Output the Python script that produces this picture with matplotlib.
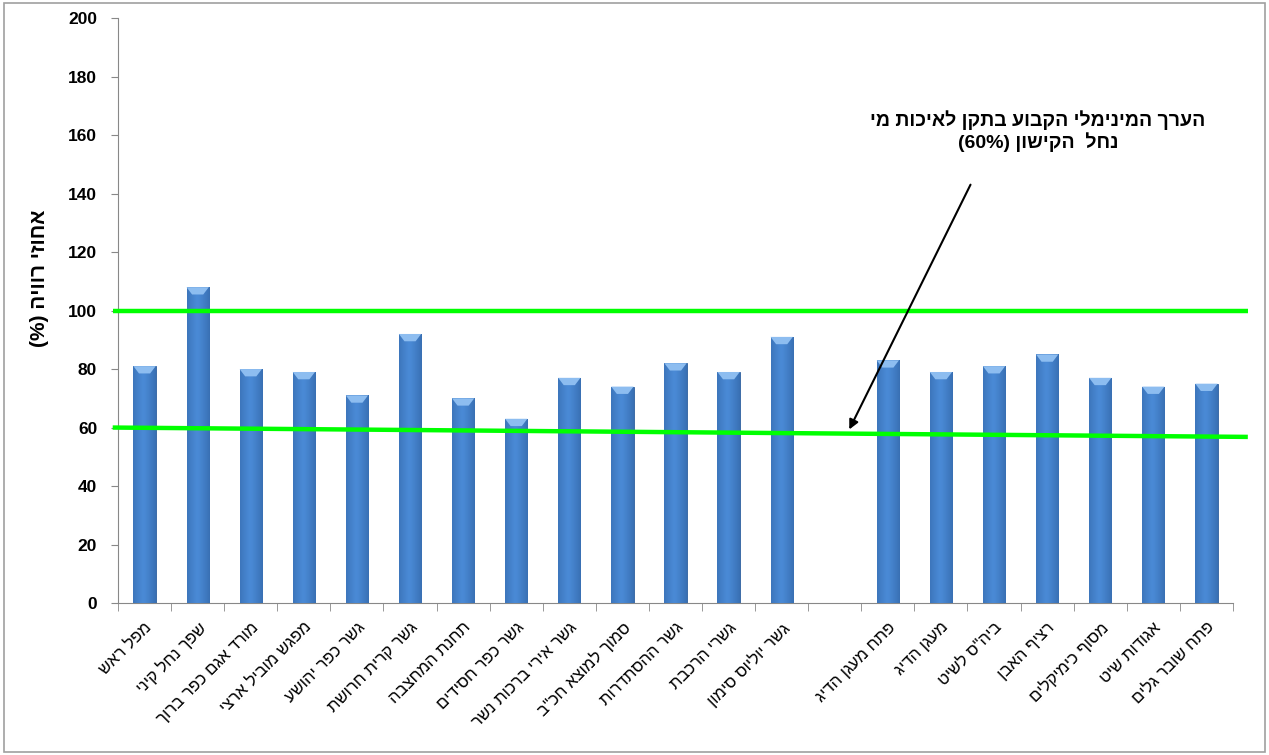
import numpy as np
import matplotlib
matplotlib.use("Agg")
import matplotlib.pyplot as plt
from matplotlib.patches import Rectangle

plt.rcParams['font.family'] = ['Liberation Sans', 'DejaVu Sans']


def rtl(s):
    # matplotlib lays text out left to right, so Hebrew is stored reversed
    return s[::-1]


# --- data ---
stations = ['מפל ראש', 'שפך נחל קיני', 'מורד אגם כפר ברוך', 'מפגש מוביל ארצי',
            'גשר כפר יהושע', 'גשר קרית חרושת', 'תחנת המחצבה', 'גשר כפר חסידים',
            'גשר אירי ברכות נשר', 'סמוך למוצא חכ"ב', 'גשר ההסתדרות', 'גשרי הרכבת',
            'גשר יוליוס סימון', '', 'פתח מעגן הדיג', 'מעגן הדיג', 'ביה"ס לשיט',
            'רציף האבן', 'מסוף כימיקלים', 'אגודות שיט', 'פתח שובר גלים']
saturation = [81, 108, 80, 79, 71, 92, 70, 63, 77, 74, 82, 79, 91, np.nan,
              83, 79, 81, 85, 77, 74, 75]
upper_ref = [100, 100]
lower_ref = [60, 56.8]
y_ticks = list(range(0, 201, 20))

fig = plt.figure(figsize=(12.69, 7.55), dpi=100)
ax = fig.add_axes([0.093, 0.2013, 0.8786, 0.7747])

x = np.arange(len(stations))
vals = np.array(saturation, dtype=float)
mask = ~np.isnan(vals)
bars = ax.bar(x[mask], vals[mask], width=0.42, color='#3C78C4',
              edgecolor='#2F5F9E', linewidth=0.6, zorder=2)

# horizontal shading on each bar + light cap on top
grad = np.linspace(0, 1, 64)
shade = 1 - 0.55 * np.abs(grad - 0.45) ** 1.2
cmap = matplotlib.colors.LinearSegmentedColormap.from_list(
    'barshade', ['#245089', '#4A8AD6'])
for b in bars:
    x0, w, h = b.get_x(), b.get_width(), b.get_height()
    im = ax.imshow(shade[np.newaxis, :], extent=(x0, x0 + w, 0, h),
                   aspect='auto', cmap=cmap, vmin=0.4, vmax=1.0, zorder=3)
    im.set_clip_path(b)
    ax.fill([x0, x0 + w, x0 + w * 0.75, x0 + w * 0.25],
            [h, h, h - 2.5, h - 2.5], color='#8DBDF0', zorder=4, lw=0)

ax.set_xlim(-0.5, len(stations) - 0.5)
ax.set_ylim(0, 200)
ax.set_yticks(y_ticks)
ax.set_yticklabels([str(t) for t in y_ticks], fontsize=12.5, fontweight='bold')
ax.tick_params(axis='y', length=5, color='#888888', pad=10)

ax.set_xticks(x)
ax.set_xticklabels([rtl(s) for s in stations], rotation=45, ha='right',
                   rotation_mode='anchor', fontsize=12)
ax.tick_params(axis='x', length=0, pad=12)
ax.set_xticks(np.arange(-0.5, len(stations)), minor=True)
ax.tick_params(axis='x', which='minor', length=6, color='#888888')

for side in ['top', 'right']:
    ax.spines[side].set_visible(False)
for side in ['left', 'bottom']:
    ax.spines[side].set_color('#888888')

ax.set_ylabel('(%) ' + rtl('אחוזי רוויה'), fontsize=15, fontweight='heavy')
ax.yaxis.set_label_coords(-0.062, 0.556)

# reference lines
x_end = 20.78
ax.plot([-0.6, x_end], upper_ref, color='#00FF00', lw=3.2, zorder=5,
        clip_on=False, solid_capstyle='butt')
ax.plot([-0.6, x_end], lower_ref, color='#00FF00', lw=3.2, zorder=5,
        clip_on=False, solid_capstyle='butt')

ax.annotate('', xy=(13.25, 58.5), xytext=(15.58, 143.9),
            arrowprops=dict(arrowstyle='-|>', color='black', lw=1.5,
                            mutation_scale=14), zorder=6)
ax.text(16.83, 161.5,
        rtl('הערך המינימלי הקבוע בתקן לאיכות מי') + '\n' +
        '(60%) ' + rtl('נחל  הקישון'),
        ha='center', va='center', fontsize=14, fontweight='bold',
        linespacing=1.15)

# outer frame
fig.patches.append(Rectangle((0.003, 0.004), 0.994, 0.992, transform=fig.transFigure,
                             fill=False, edgecolor='#A0A0A0', lw=1.2))

fig.savefig('out.png', dpi=100)
